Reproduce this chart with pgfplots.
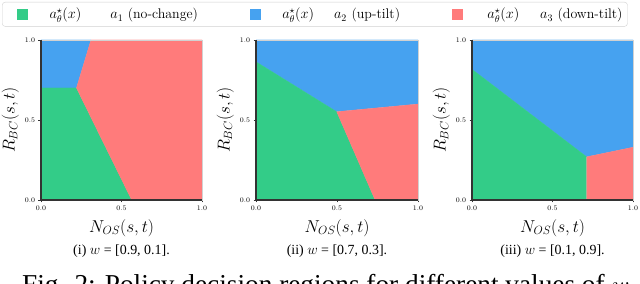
\documentclass[border=0pt]{standalone}
\usepackage{fontspec}
\usepackage{pgfplots}
\pgfplotsset{compat=1.18}
\newfontfamily\timesfont{Liberation Serif}
\definecolor{cG}{RGB}{51,204,136}
\definecolor{cB}{RGB}{70,162,240}
\definecolor{cR}{RGB}{255,123,123}
\pgfplotsset{regax/.style={
  scale only axis, width=161bp, height=160bp, anchor=south west,
  clip mode=individual,
  xmin=0, xmax=1, ymin=0, ymax=1,
  xtick={0,0.5,1}, ytick={0,0.5,1},
  xticklabels={0.0,0.5,1.0}, yticklabels={0.0,0.5,1.0},
  tick label style={font=\fontsize{7}{8}\selectfont},
  xlabel={$N_{OS}(s,t)$}, ylabel={$R_{BC}(s,t)$},
  label style={font=\fontsize{18}{20}\selectfont},
  xlabel style={at={(axis description cs:0.5,-0.175)}, anchor=center},
  ylabel style={at={(axis description cs:-0.19,0.5)}, anchor=center},
  axis line style={draw=black!18, line width=0.6bp},
  tick align=outside, xtick pos=bottom, ytick pos=left,
  major tick length=2.5bp, tick style={black!80, line width=0.6bp},
  axis on top,
  after end axis/.code={\draw[black!80, line width=1.2bp] (rel axis cs:0,1) -- (rel axis cs:0,0) -- (rel axis cs:1,0);},
}}
\begin{document}
\begin{tikzpicture}
\begin{axis}[regax, at={(41bp,84bp)},
  legend columns=3,
  legend style={at={(axis description cs:-0.242,1.2375)}, anchor=north west,
    draw=black!18, rounded corners=3bp, inner ysep=4bp, font=\fontsize{14}{16}\selectfont,
    /tikz/every even column/.append style={column sep=38bp}},
  legend cell align=left]
\addlegendimage{legend image code/.code={\path (0bp,0bp); \fill[cG, sharp corners] (12bp,-5bp) rectangle (22bp,5bp);}}
\addlegendentry{\hspace{20bp}$a^\star_\theta(x)$\hspace{29bp}$a_1$ (no-change)\hspace{6bp}}
\addlegendimage{legend image code/.code={\path (0bp,0bp); \fill[cB, sharp corners] (12bp,-5bp) rectangle (22bp,5bp);}}
\addlegendentry{\hspace{20bp}$a^\star_\theta(x)$\hspace{20bp}$a_2$ (up-tilt)}
\addlegendimage{legend image code/.code={\path (0bp,0bp); \fill[cR, sharp corners] (12bp,-5bp) rectangle (22bp,5bp);}}
\addlegendentry{\hspace{23bp}$a^\star_\theta(x)$\hspace{21bp}$a_3$ (down-tilt)\hspace{9bp}}
\addplot[fill=cB, draw=cB, line width=0.2bp, forget plot] coordinates {(0,0.7) (0.22,0.7) (0.31,1) (0,1)} --cycle;
\addplot[fill=cG, draw=cG, line width=0.2bp, forget plot] coordinates {(0,0) (0.563,0) (0.22,0.7) (0,0.7)} --cycle;
\addplot[fill=cR, draw=cR, line width=0.2bp, forget plot] coordinates {(0.31,1) (1,1) (1,0) (0.563,0) (0.22,0.7)} --cycle;
\node[font=\timesfont\fontsize{14}{16}\selectfont] at (axis description cs:0.5,-0.32) {(i) $w$ = [0.9, 0.1].};
\end{axis}
\begin{axis}[regax, at={(256bp,84bp)}, width=162bp]
\addplot[fill=cB, draw=cB, line width=0.2bp] coordinates {(0,0.864) (0.498,0.552) (1,0.6) (1,1) (0,1)} --cycle;
\addplot[fill=cG, draw=cG, line width=0.2bp] coordinates {(0,0) (0.735,0) (0.498,0.552) (0,0.864)} --cycle;
\addplot[fill=cR, draw=cR, line width=0.2bp] coordinates {(0.735,0) (1,0) (1,0.6) (0.498,0.552)} --cycle;
\node[font=\timesfont\fontsize{14}{16}\selectfont] at (axis description cs:0.5,-0.32) {(ii) $w$ = [0.7, 0.3].};
\end{axis}
\begin{axis}[regax, at={(472bp,84bp)}]
\addplot[fill=cB, draw=cB, line width=0.2bp] coordinates {(0,0.817) (0.712,0.27) (1,0.33) (1,1) (0,1)} --cycle;
\addplot[fill=cG, draw=cG, line width=0.2bp] coordinates {(0,0) (0.712,0) (0.712,0.27) (0,0.817)} --cycle;
\addplot[fill=cR, draw=cR, line width=0.2bp] coordinates {(0.712,0) (1,0) (1,0.33) (0.712,0.27)} --cycle;
\node[font=\timesfont\fontsize{14}{16}\selectfont] at (axis description cs:0.5,-0.32) {(iii) $w$ = [0.1, 0.9].};
\end{axis}
\node[anchor=base west, font=\timesfont\fontsize{27.4}{32}\selectfont, inner sep=0pt] at (22bp,-9bp) {Fig. 2: Policy decision regions for different values of $w$};
\pgfresetboundingbox
\useasboundingbox (0,0) rectangle (640bp,284bp);
\end{tikzpicture}
\end{document}
